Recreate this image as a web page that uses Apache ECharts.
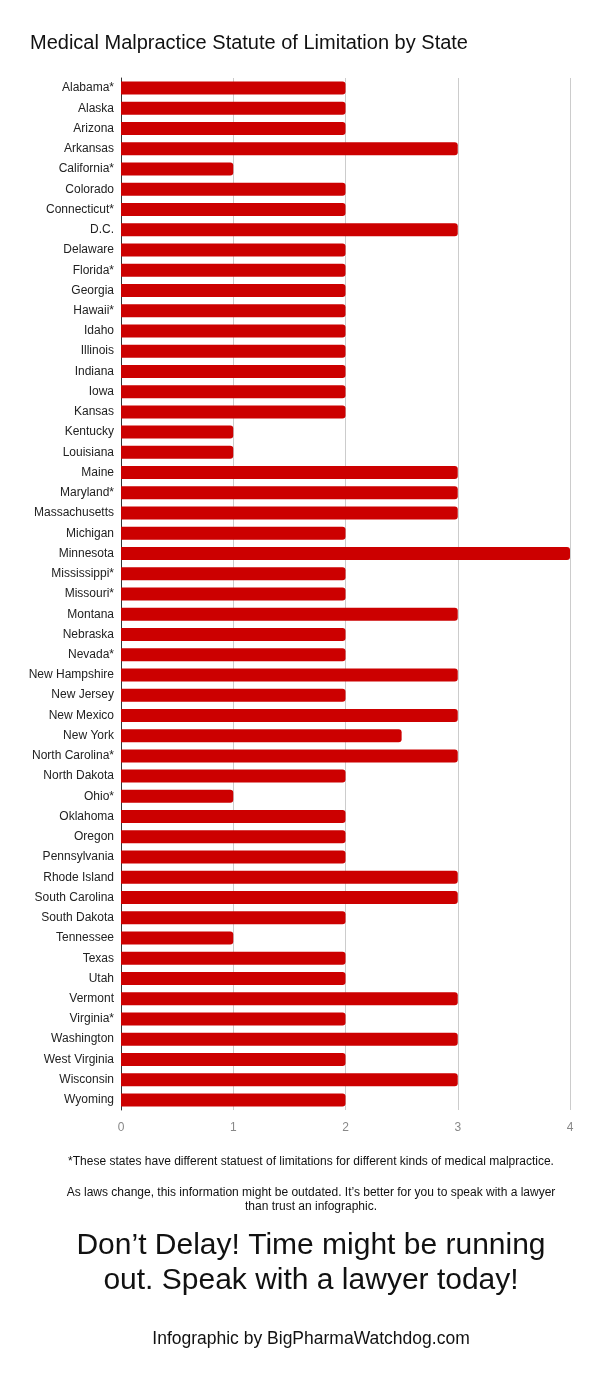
<!DOCTYPE html>
<html>
<head>
<meta charset="utf-8">
<script src="https://cdn.jsdelivr.net/npm/echarts@6/dist/echarts.min.js"></script>
<style>
  html, body { margin: 0; padding: 0; background: #fff; }
  #chart { width: 600px; height: 1400px; }
</style>
</head>
<body>
<div id="chart"></div>
<script>
// states (top to bottom) and years allowed to file
var states = ['Alabama*', 'Alaska', 'Arizona', 'Arkansas', 'California*', 'Colorado', 'Connecticut*',
  'D.C.', 'Delaware', 'Florida*', 'Georgia', 'Hawaii*', 'Idaho', 'Illinois', 'Indiana', 'Iowa',
  'Kansas', 'Kentucky', 'Louisiana', 'Maine', 'Maryland*', 'Massachusetts', 'Michigan', 'Minnesota',
  'Mississippi*', 'Missouri*', 'Montana', 'Nebraska', 'Nevada*', 'New Hampshire', 'New Jersey',
  'New Mexico', 'New York', 'North Carolina*', 'North Dakota', 'Ohio*', 'Oklahoma', 'Oregon',
  'Pennsylvania', 'Rhode Island', 'South Carolina', 'South Dakota', 'Tennessee', 'Texas', 'Utah',
  'Vermont', 'Virginia*', 'Washington', 'West Virginia', 'Wisconsin', 'Wyoming'];
var years = [2, 2, 2, 3, 1, 2, 2,
  3, 2, 2, 2, 2, 2, 2, 2, 2,
  2, 1, 1, 3, 3, 3, 2, 4,
  2, 2, 3, 2, 2, 3, 2,
  3, 2.5, 3, 2, 1, 2, 2,
  2, 3, 3, 2, 1, 2, 2,
  3, 2, 3, 2, 3, 2];
var xTicks = [0, 1, 2, 3, 4];

var titleText = 'Medical Malpractice Statute of Limitation by State';
var noteText = '*These states have different statuest of limitations for different kinds of medical malpractice.';
var lawText = 'As laws change, this information might be outdated. It\u2019s better for you to speak with a lawyer\nthan trust an infographic.';
var callText = 'Don\u2019t Delay! Time might be running\nout. Speak with a lawyer today!';
var creditText = 'Infographic by BigPharmaWatchdog.com';

var FONT = '"Liberation Sans", Arial, sans-serif';
var CX = 311; // centre line of the footer texts
var chart = echarts.init(document.getElementById('chart'), null, { renderer: 'canvas' });

var option = {
  animation: false,
  backgroundColor: '#fff',
  textStyle: { fontFamily: FONT },
  title: {
    text: titleText,
    left: 25,
    top: 28,
    textStyle: { fontFamily: FONT, fontSize: 20, fontWeight: 'normal', color: '#111' }
  },
  grid: { left: 121, right: 30, top: 78, bottom: 290, containLabel: false },
  xAxis: {
    type: 'value',
    min: xTicks[0],
    max: xTicks[xTicks.length - 1],
    interval: 1,
    axisLine: { show: false },
    axisTick: { show: false },
    axisLabel: { color: '#888', fontSize: 12, margin: 12, fontFamily: FONT },
    splitLine: { show: true, lineStyle: { color: '#ccc', width: 1 } }
  },
  yAxis: {
    type: 'category',
    data: states,
    inverse: true,
    axisLine: { show: true, lineStyle: { color: '#333', width: 1 } },
    axisTick: { show: false },
    axisLabel: { color: '#222', fontSize: 12, margin: 7, fontFamily: FONT, interval: 0 }
  },
  series: [{
    type: 'bar',
    data: years,
    barWidth: 13,
    itemStyle: { color: '#cc0000', borderRadius: [0, 3, 3, 0] }
  }],
  graphic: [
    { type: 'text', x: CX, y: 1162,
      style: { text: noteText, font: '12px ' + FONT, fill: '#111', textAlign: 'center', textVerticalAlign: 'middle' } },
    { type: 'text', x: CX, y: 1200,
      style: { text: lawText, font: '12px ' + FONT, fill: '#111', textAlign: 'center', textVerticalAlign: 'middle', lineHeight: 14 } },
    { type: 'text', x: CX, y: 1263,
      style: { text: callText, font: '30px ' + FONT, fill: '#111', textAlign: 'center', textVerticalAlign: 'middle', lineHeight: 35 } },
    { type: 'text', x: CX, y: 1339,
      style: { text: creditText, font: '17.5px ' + FONT, fill: '#111', textAlign: 'center', textVerticalAlign: 'middle' } }
  ]
};

chart.setOption(option);
</script>
</body>
</html>
